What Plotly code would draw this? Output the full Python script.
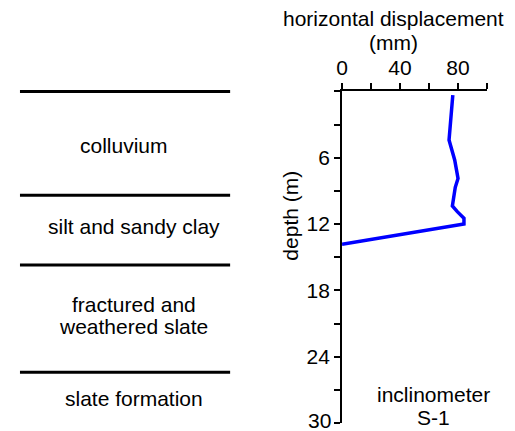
import plotly.graph_objects as go

# ---- data ----
depth_m = [0.33, 4.4, 6.2, 7.26, 7.87, 8.68, 9.38, 10.37, 10.88, 11.48, 12.0, 13.84]
disp_mm = [76.5, 73.9, 77.8, 79.6, 80.1, 78.2, 77.4, 76.2, 79.6, 84.2, 84.2, 0.0]

x_tickvals = [0, 20, 40, 60, 80, 100]
x_ticktext = ["0", "", "40", "", "80", ""]
y_tickvals = [0, 3, 6, 9, 12, 15, 18, 21, 24, 27, 30]
y_ticktext = ["", "", "6", "", "12", "", "18", "", "24", "", "30"]

layer_boundaries = [0, 9.4, 15.7, 25.4]
layer_labels = [["colluvium"], ["silt and sandy clay"], ["fractured and", "weathered slate"], ["slate formation"]]
layer_label_depths = [[4.85], [12.2], [19.3, 21.3], [27.8]]
layer_label_x = [0.495, 0.54, 0.54, 0.54]

# ---- layout helpers ----
W, H = 515, 431
def px(x):
    return x / W
def py(y):
    return 1 - y / H

FONT = "Liberation Sans, Arial, sans-serif"
FS = 21

fig = go.Figure()

fig.add_trace(go.Scatter(
    x=disp_mm, y=depth_m, mode="lines",
    line=dict(color="#0000ff", width=3.5),
    xaxis="x", yaxis="y", showlegend=False, hoverinfo="skip",
))

# geological column boundaries
lx, ly = [], []
for d in layer_boundaries:
    lx += [0, 1, None]
    ly += [d, d, None]
fig.add_trace(go.Scatter(
    x=lx, y=ly, mode="lines", line=dict(color="black", width=3),
    xaxis="x2", yaxis="y2", showlegend=False, hoverinfo="skip",
))

annotations = []
for lines, depths, xx in zip(layer_labels, layer_label_depths, layer_label_x):
    for t, d in zip(lines, depths):
        annotations.append(dict(
            text=t, x=xx, y=d, xref="x2", yref="y2", showarrow=False,
            xanchor="center", yanchor="middle",
            font=dict(family=FONT, size=FS, color="black"),
        ))

for t, x, y, ang in [
    ("horizontal displacement", 392, 19, 0),
    ("(mm)", 392, 42, 0),
    ("depth (m)", 287, 216, -90),
    ("inclinometer", 433, 394, 0),
    ("S-1", 433, 417, 0),
]:
    annotations.append(dict(
        text=t, x=px(x), y=py(y), xref="paper", yref="paper", showarrow=False,
        xanchor="center", yanchor="middle", textangle=ang,
        font=dict(family=FONT, size=FS, color="black"),
    ))

# the last depth label sits at the bottom edge of the page; the axis would
# hide it, so it is placed as a bottom-anchored annotation instead
annotations.append(dict(
    text=y_ticktext[-1], x=px(331), y=0, xref="paper", yref="paper",
    showarrow=False, xanchor="right", yanchor="bottom", yshift=-3,
    font=dict(family=FONT, size=FS, color="black"),
))

fig.update_layout(
    width=W, height=H,
    margin=dict(l=0, r=0, t=0, b=0),
    paper_bgcolor="white", plot_bgcolor="white",
    font=dict(family=FONT, size=FS, color="black"),
    xaxis=dict(
        domain=[px(340), px(486.5)], range=[0, 100], side="top", anchor="y",
        showline=True, linecolor="black", linewidth=2,
        ticks="outside", ticklen=6, tickwidth=2, tickcolor="black",
        tickvals=x_tickvals, ticktext=x_ticktext,
        showgrid=False, zeroline=False, fixedrange=True,
        tickfont=dict(family=FONT, size=FS, color="black"),
    ),
    yaxis=dict(
        domain=[py(423), py(91.4)], range=[30, 0], anchor="x",
        showline=True, linecolor="black", linewidth=2,
        ticks="outside", ticklen=6, tickwidth=2, tickcolor="black",
        tickvals=y_tickvals, ticktext=y_ticktext[:-1] + [""],
        showgrid=False, zeroline=False, fixedrange=True,
        tickfont=dict(family=FONT, size=FS, color="black"),
    ),
    xaxis2=dict(domain=[px(14), px(227)], range=[0, 1], visible=False, anchor="y2"),
    yaxis2=dict(domain=[py(423), py(91.4 - 11.05)], range=[30, -1], visible=False, anchor="x2"),
    annotations=annotations,
)

fig.write_html("out.html")
